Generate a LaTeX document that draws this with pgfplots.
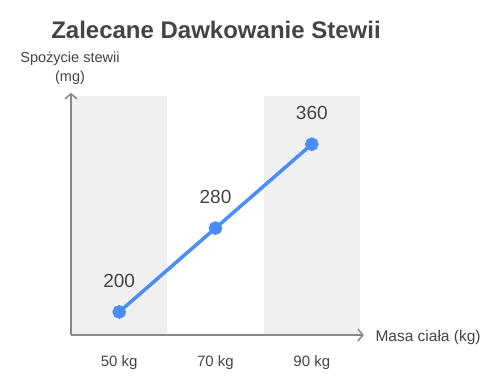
\documentclass[border=0pt]{standalone}
\usepackage{fontspec}
\setmainfont{Liberation Sans}
\usepackage{pgfplots}
\pgfplotsset{compat=1.18}
\usetikzlibrary{arrows.meta}
\definecolor{txt}{HTML}{444444}
\definecolor{axgray}{HTML}{888888}
\definecolor{band}{HTML}{F0F0F0}
\definecolor{lineblue}{HTML}{4B8DF8}
\begin{document}
\begin{tikzpicture}[x=1pt,y=1pt]
\useasboundingbox (0,0) rectangle (492,388);
\node[font=\fontsize{24}{28}\selectfont\bfseries, text=txt] at (216,358) {Zalecane Dawkowanie Stewii};
\node[font=\fontsize{14.5}{19}\selectfont, text=txt, align=center] at (70,320) {Spożycie stewii\\(mg)};
\begin{axis}[
  at={(71pt,53pt)}, anchor=south west,
  scale only axis, width=289pt, height=239pt,
  xmin=-0.5, xmax=2.5, ymin=178, ymax=406,
  axis lines=left,
  axis line style={draw=none},
  xtick={0,1,2}, xticklabels={50 kg,70 kg,90 kg},
  ytick=\empty,
  major tick length=0pt,
  xticklabel style={font=\fontsize{15}{17}\selectfont, text=txt, yshift=-17pt},
  clip=false,
  /pgf/number format/assume math mode=true,
  nodes near coords,
  every node near coord/.style={font=\fontsize{19}{21}\selectfont, text=txt, yshift=19pt},
]
\fill[band] (axis cs:-0.5,178) rectangle (axis cs:0.5,406);
\fill[band] (axis cs:1.5,178) rectangle (axis cs:2.5,406);
\draw[axgray, line width=1.5pt, -{Straight Barb[length=5pt,width=12pt]}] (axis cs:-0.5,178) -- (axis cs:2.54,178);
\draw[axgray, line width=1.5pt, -{Straight Barb[length=5pt,width=12pt]}] (axis cs:-0.5,178) -- (axis cs:-0.5,409);
\addplot[lineblue, line width=3.5pt, mark=*, mark size=5pt, mark options={fill=lineblue, draw=none}] coordinates {(0,200) (1,280) (2,360)};
\end{axis}
\node[font=\fontsize{15.5}{18}\selectfont, text=txt, anchor=west] at (372,51) {Masa ciała (kg)};
\end{tikzpicture}
\end{document}
